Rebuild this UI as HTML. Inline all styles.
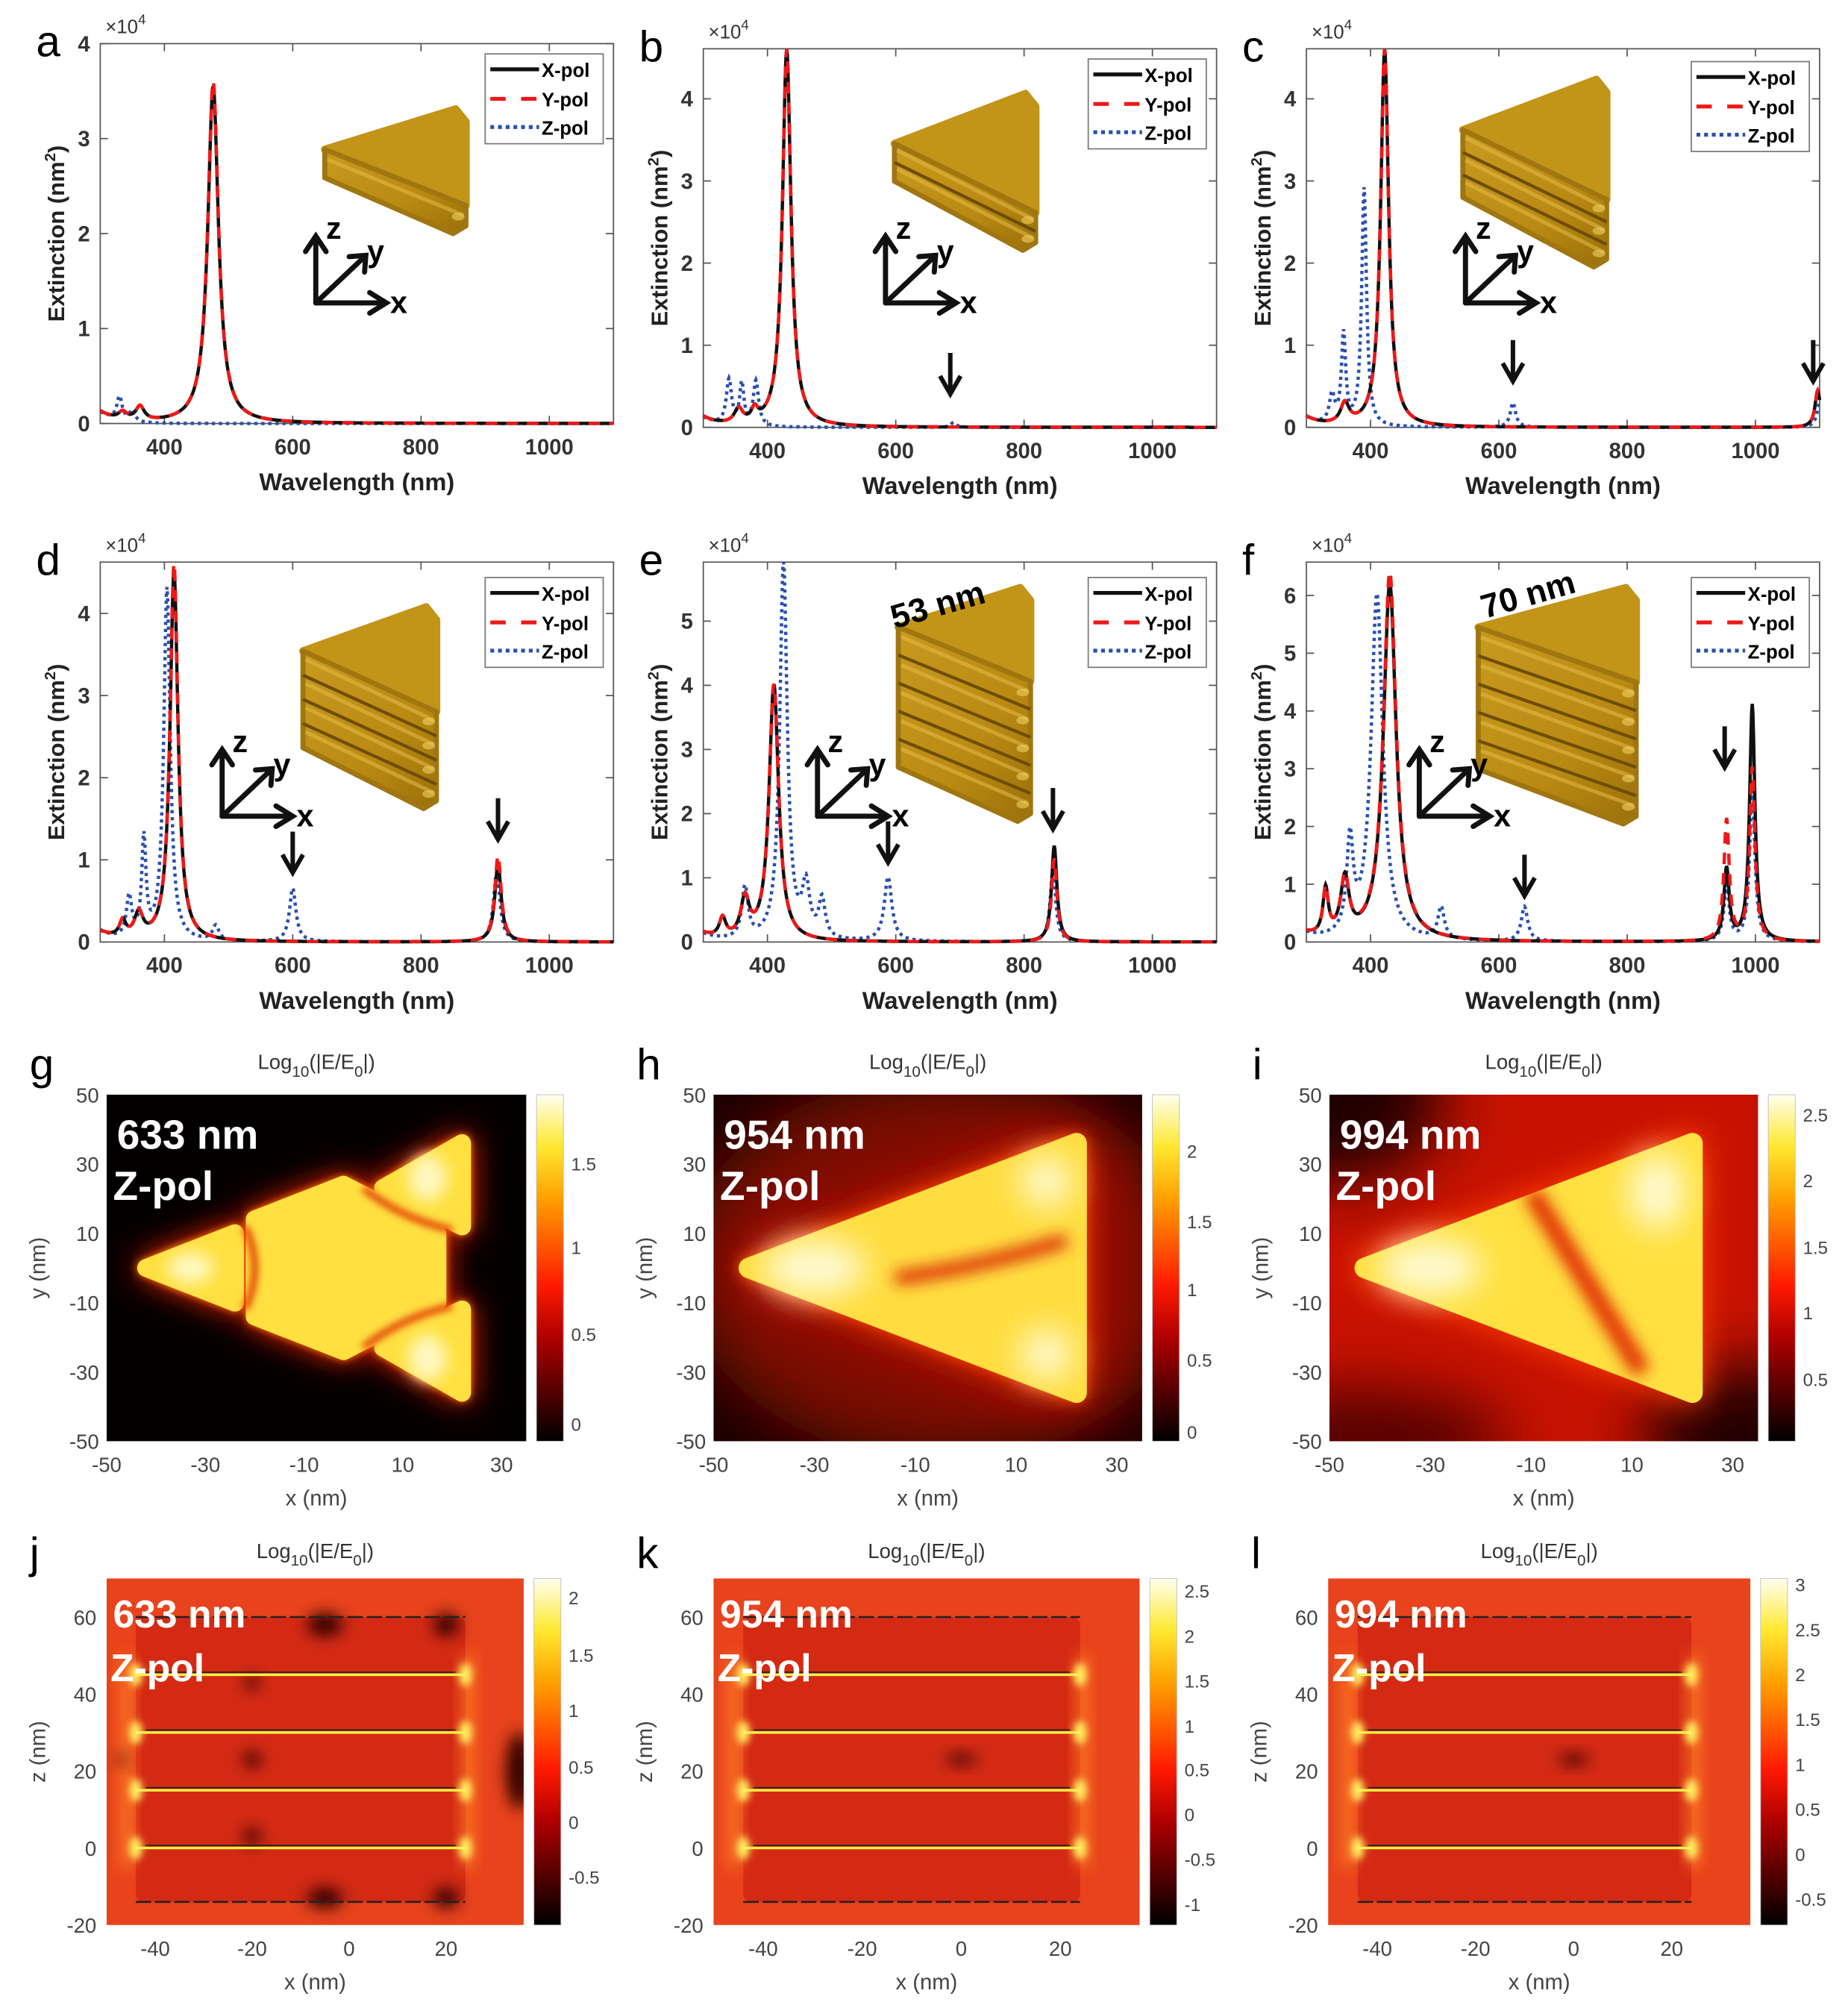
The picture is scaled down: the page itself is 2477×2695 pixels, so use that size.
<!DOCTYPE html>
<html><head><meta charset="utf-8">
<style>
html,body{margin:0;padding:0;background:#fff;overflow:hidden;width:2477px;height:2695px;}
svg{display:block;}
text{font-family:"Liberation Sans",Arial,sans-serif;}
</style></head>
<body>
<svg id="s" width="2477" height="2695" viewBox="0 0 1440 1567" xmlns="http://www.w3.org/2000/svg">
<defs>
<linearGradient id="hot" x1="0" y1="1" x2="0" y2="0">
<stop offset="0" stop-color="#000"/><stop offset="0.3" stop-color="#b00000"/><stop offset="0.45" stop-color="#ff1a00"/><stop offset="0.7" stop-color="#ffa000"/><stop offset="0.85" stop-color="#ffe830"/><stop offset="1" stop-color="#fffff0"/>
</linearGradient>
<linearGradient id="gold" x1="0" y1="0" x2="1" y2="1">
<stop offset="0" stop-color="#c89a1e"/><stop offset="0.6" stop-color="#ba8a12"/><stop offset="1" stop-color="#9a700a"/>
</linearGradient>
<filter id="b6" x="-100%" y="-100%" width="300%" height="300%"><feGaussianBlur stdDeviation="6"/></filter>
<filter id="b12" x="-100%" y="-100%" width="300%" height="300%"><feGaussianBlur stdDeviation="12"/></filter>
<filter id="b25" x="-100%" y="-100%" width="300%" height="300%"><feGaussianBlur stdDeviation="25"/></filter>
<filter id="b3" x="-100%" y="-100%" width="300%" height="300%"><feGaussianBlur stdDeviation="3"/></filter>
</defs>
<g id="root"></g>
</svg>
<script>
const R=document.getElementById('root');let H='';
function lor(x,c,h,w){return h*w*w/((x-c)*(x-c)+w*w);}
function f(ps,x){let s=0;for(const p of ps)s+=lor(x,p[0],p[1],p[2]);return s;}
function path(P,ps,base){let d='';for(let nm=300;nm<=1100;nm+=1){let v=f(ps,nm)+(base?base(nm):0);let X=P.L+(nm-300)*0.5,Y=P.B-v*P.ppu;if(Y<P.T)Y=P.T;d+=(nm==300?'M':'L')+X.toFixed(1)+','+Y.toFixed(1);}return d;}
function spectrum(P){
 const {L,R:Rr,T,B,ppu,nt,let:lt}=P;
 H+=`<text x="${L-50}" y="${T+10}" font-size="34">${lt}</text>`;
 H+=`<rect x="${L}" y="${T}" width="${Rr-L}" height="${B-T}" fill="#fff" stroke="#555" stroke-width="1"/>`;
 for(let k=0;k<=nt;k++){let y=B-k*ppu;H+=`<line x1="${L}" x2="${L+6}" y1="${y}" y2="${y}" stroke="#555"/><line x1="${Rr}" x2="${Rr-6}" y1="${y}" y2="${y}" stroke="#555"/><text x="${L-8}" y="${y+6}" font-size="17" font-weight="bold" fill="#333" text-anchor="end">${k}</text>`;}
 for(const w of [400,600,800,1000]){let x=L+(w-300)*0.5;H+=`<line x1="${x}" x2="${x}" y1="${B}" y2="${B-6}" stroke="#555"/><line x1="${x}" x2="${x}" y1="${T}" y2="${T+6}" stroke="#555"/><text x="${x}" y="${B+24}" font-size="17" font-weight="bold" fill="#333" text-anchor="middle">${w}</text>`;}
 H+=`<text x="${L+4}" y="${T-8}" font-size="15" fill="#333">×10<tspan dy="-7" font-size="11">4</tspan></text>`;
 H+=`<text x="${L+200}" y="${B+52}" font-size="19" font-weight="bold" fill="#222" text-anchor="middle">Wavelength (nm)</text>`;
 H+=`<text transform="translate(${L-28},${(T+B)/2}) rotate(-90)" font-size="18" font-weight="bold" fill="#222" text-anchor="middle">Extinction (nm<tspan dy="-7" font-size="12">2</tspan><tspan dy="7">)</tspan></text>`;
 inset(P.ins);
 const bx=P.base||(x=>0);
 H+=`<path d="${path(P,P.z,bx)}" fill="none" stroke="#2850b0" stroke-width="2.6" stroke-dasharray="2.5,3"/>`;
 H+=`<path d="${path(P,P.x,bx)}" fill="none" stroke="#111" stroke-width="2.6"/>`;
 H+=`<path d="${path(P,P.y,bx)}" fill="none" stroke="#f01818" stroke-width="2.6" stroke-dasharray="9,7"/>`;
 for(const a of (P.arr||[])){let x=L+(a[0]-300)*0.5;H+=`<line x1="${x}" y1="${a[1]}" x2="${x}" y2="${a[1]+30}" stroke="#111" stroke-width="3.5"/><path d="M${x-8},${a[1]+18} L${x},${a[1]+32} L${x+8},${a[1]+18}" fill="none" stroke="#111" stroke-width="3.5"/>`;}
 const lx=Rr-100,ly=T+(P.lg||8);
 H+=`<rect x="${lx}" y="${ly}" width="92" height="70" fill="#fff" stroke="#777"/>`;
 H+=`<line x1="${lx+4}" x2="${lx+42}" y1="${ly+12}" y2="${ly+12}" stroke="#111" stroke-width="3"/><text x="${lx+44}" y="${ly+18}" font-size="15" font-weight="bold">X-pol</text>`;
 H+=`<line x1="${lx+4}" x2="${lx+42}" y1="${ly+35}" y2="${ly+35}" stroke="#f01818" stroke-width="3" stroke-dasharray="12,12"/><text x="${lx+44}" y="${ly+41}" font-size="15" font-weight="bold">Y-pol</text>`;
 H+=`<line x1="${lx+4}" x2="${lx+42}" y1="${ly+57}" y2="${ly+57}" stroke="#2850b0" stroke-width="3" stroke-dasharray="3,3"/><text x="${lx+44}" y="${ly+63}" font-size="15" font-weight="bold">Z-pol</text>`;
}
function inset(I){
 const {x,y,w,h,n,ox,oy,lab}=I;
 const t=(n==1?22:h*0.12);
 const yLt=y+0.42*(h-n*t), yLb=yLt+n*t;
 const xr=x+w;
 // top face
 H+=`<polygon points="${x},${yLt} ${xr-8},${y} ${xr},${y+10} ${xr},${y+h-n*t}" fill="#c29418" stroke="#c29418" stroke-width="6" stroke-linejoin="round"/>`;
 // front band
 H+=`<polygon points="${x},${yLt} ${xr},${y+h-n*t} ${xr},${y+h-6} ${xr-10},${y+h} ${x},${yLb}" fill="url(#gold)" stroke="#a07610" stroke-width="4" stroke-linejoin="round"/>`;
 for(let i=0;i<n;i++){
   const a1=yLt+i*t, a2=y+h-n*t+i*t;
   H+=`<path d="M${x+2},${a1+t*0.35} L${xr-2},${a2+t*0.35}" stroke="#e4bc48" stroke-width="3" opacity="0.55" fill="none"/>`;
   if(i>0)H+=`<path d="M${x},${a1} L${xr},${a2}" stroke="#6e4e06" stroke-width="2.5" fill="none"/>`;
   H+=`<ellipse cx="${xr-6}" cy="${a2+t*0.4}" rx="5" ry="3" fill="#f0d060" opacity="0.6"/>`;
 }
 H+=`<g stroke="#111" stroke-width="4" fill="none" stroke-linecap="round"><line x1="${ox}" y1="${oy}" x2="${ox}" y2="${oy-50}"/><path d="M${ox-8},${oy-40} L${ox},${oy-52} L${ox+8},${oy-40}"/><line x1="${ox}" y1="${oy}" x2="${ox+54}" y2="${oy}"/><path d="M${ox+42},${oy-8} L${ox+55},${oy} L${ox+42},${oy+8}"/><line x1="${ox}" y1="${oy}" x2="${ox+38}" y2="${oy-36}"/><path d="M${ox+26},${oy-36} L${ox+39},${oy-37} L${ox+38},${oy-24}"/></g>`;
 H+=`<text x="${ox+8}" y="${oy-50}" font-size="24" font-weight="bold">z</text><text x="${ox+40}" y="${oy-32}" font-size="24" font-weight="bold">y</text><text x="${ox+58}" y="${oy+8}" font-size="24" font-weight="bold">x</text>`;
 if(lab)H+=`<text transform="translate(${lab[0]},${lab[1]}) rotate(-16)" font-size="26" font-weight="bold">${lab[2]}</text>`;
}
const b0=(nm)=>0.12*Math.exp(-(nm-300)/25);
spectrum({let:'a',L:78,R:478,T:34,B:330,ppu:74,nt:4,base:b0,
 x:[[476,3.55,10],[335,0.08,8],[362,0.15,8]],y:[[476,3.6,10],[335,0.08,8],[362,0.15,8]],z:[[330,0.25,5],[350,0.12,5]],
 ins:{x:253,y:85,w:110,h:97,n:1,ox:246,oy:236},lg:8});
spectrum({let:'b',L:548,R:948,T:38,B:333,ppu:64,nt:4,base:b0,
 x:[[430,4.6,8],[355,0.18,8],[380,0.15,6]],y:[[430,4.6,8],[355,0.18,8],[380,0.15,6]],z:[[340,0.55,5],[360,0.5,4],[382,0.55,5],[690,0.06,5]],
 ins:{x:697,y:73,w:110,h:122,n:2,ox:690,oy:236},arr:[[685,275]],lg:8});
spectrum({let:'c',L:1018,R:1418,T:38,B:333,ppu:64,nt:4,base:b0,
 x:[[422,4.6,7.5],[360,0.25,8],[1097,0.45,5]],y:[[422,4.6,7.5],[360,0.25,8],[1097,0.45,5]],z:[[390,2.9,4.5],[358,1.1,4],[340,0.35,5],[622,0.3,5],[1100,0.3,5]],
 ins:{x:1140,y:62,w:112,h:146,n:3,ox:1142,oy:236},arr:[[622,265],[1090,265]],lg:10});
spectrum({let:'d',L:78,R:478,T:438,B:734,ppu:64,nt:4,base:b0,
 x:[[415,4.5,7.5],[920,0.95,6],[360,0.3,8],[335,0.2,6]],y:[[415,4.6,7.5],[920,1.05,6],[360,0.3,8],[335,0.2,6]],z:[[404,4.3,6],[368,1.2,4],[345,0.5,5],[600,0.65,6],[480,0.18,6],[918,0.85,6]],
 ins:{x:236,y:473,w:104,h:157,n:4,ox:173,oy:636},arr:[[600,648],[920,622]],lg:12});
spectrum({let:'e',L:548,R:948,T:438,B:734,ppu:50,nt:5,base:b0,
 x:[[410,4.0,9],[847,1.5,5],[365,0.6,8],[330,0.3,6]],y:[[410,4.0,9],[847,1.3,5],[365,0.6,8],[330,0.3,6]],z:[[425,5.9,7],[365,0.8,6],[460,0.8,7],[485,0.6,6],[588,1.0,7],[845,1.15,5]],
 ins:{x:700,y:458,w:103,h:182,n:5,ox:637,oy:636,lab:[697,490,'53 nm']},arr:[[588,640],[845,614]],lg:12});
spectrum({let:'f',L:1018,R:1418,T:438,B:734,ppu:45,nt:6,base:b0,
 x:[[430,6.2,12],[360,1.0,8],[330,0.8,5],[955,1.25,5],[995,4.1,5]],y:[[430,6.4,12],[360,1.0,8],[330,0.8,5],[955,2.1,5],[995,3.0,5]],z:[[410,6.0,11],[368,1.6,6],[510,0.55,6],[640,0.6,6],[955,0.95,5],[995,2.6,5]],
 ins:{x:1152,y:458,w:123,h:184,n:5,ox:1106,oy:636,lab:[1157,482,'70 nm']},arr:[[640,666],[952,566],[993,485]],lg:12});

function map3(P){
 const {L,T,W,Hh,lt,wl,bg,cb,cbt}=P;
 const X=v=>L+(v+50)/85*W, Y=v=>T+(50-v)/100*Hh;
 H+=`<text x="${L-60}" y="${T-12}" font-size="34">${lt}</text>`;
 H+=`<text x="${L+W/2}" y="${T-20}" font-size="16" fill="#333" text-anchor="middle">Log<tspan dy="6" font-size="12">10</tspan><tspan dy="-6">(|E/E</tspan><tspan dy="6" font-size="12">0</tspan><tspan dy="-6">|)</tspan></text>`;
 H+=`<svg x="${L}" y="${T}" width="${W}" height="${Hh}" viewBox="${L} ${T} ${W} ${Hh}" overflow="hidden">${bg(X,Y)}</svg>`;
 [50,30,10,-10,-30,-50].forEach(v=>H+=`<text x="${L-6}" y="${Y(v)+6}" font-size="16" fill="#444" text-anchor="end">${v}</text>`);
 [-50,-30,-10,10,30].forEach(v=>H+=`<text x="${X(v)}" y="${T+Hh+24}" font-size="16" fill="#444" text-anchor="middle">${v}</text>`);
 H+=`<text x="${L+W/2}" y="${T+Hh+50}" font-size="17" fill="#444" text-anchor="middle">x (nm)</text>`;
 H+=`<text transform="translate(${L-48},${T+Hh/2}) rotate(-90)" font-size="17" fill="#444" text-anchor="middle">y (nm)</text>`;
 H+=`<rect x="${L+W+8}" y="${T}" width="21" height="${Hh}" fill="url(#hot)" stroke="#bbb" stroke-width="0.5"/>`;
 cbt.forEach(t=>H+=`<text x="${L+W+35}" y="${t[1]+5}" font-size="14" fill="#444">${t[0]}</text>`);
 H+=`<text x="${L+8}" y="${T+42}" font-size="32" font-weight="bold" fill="#fff">${wl}</text><text x="${L+5}" y="${T+82}" font-size="32" font-weight="bold" fill="#fff">Z-pol</text>`;
}
function tri(X,Y,fill,extra){const p=[[X(-43),Y(0)],[X(22),Y(36)],[X(22),Y(-36)]];return `<polygon points="${p.map(q=>q.join(',')).join(' ')}" fill="${fill}" stroke="${fill}" stroke-width="16" stroke-linejoin="round" ${extra||''}/>`;}
map3({L:83,T:853,W:327,Hh:270,lt:'g',wl:'633 nm',cbt:[['1.5',907],['1',972],['0.5',1040],['0',1110]],
 bg:(X,Y)=>{let s=`<rect x="0" y="0" width="2000" height="2000" fill="#050000"/>`;
 const sm=(pts,c,e)=>`<polygon points="${pts.map(p=>X(p[0])+','+Y(p[1])).join(' ')}" fill="${c}" stroke="${c}" stroke-width="14" stroke-linejoin="round" ${e||''}/>`;
 const shapes=[[[-42,0],[-24,10],[-24,-10]],[[6,23],[22,36],[22,12]],[[6,-23],[22,-36],[22,-12]],[[-20,14],[-2,24],[17,10],[17,-10],[-2,-24],[-20,-14]]];
 shapes.forEach(p=>s+=sm(p,'#ff2000','filter="url(#b12)"'));
 shapes.forEach(p=>s+=sm(p,'#ff7a00','filter="url(#b3)"'));
 shapes.forEach(p=>s+=sm(p,'#ffe040'));
 s+=`<g stroke="#e03000" stroke-width="5" fill="none" filter="url(#b3)"><path d="M${X(-22)},${Y(12)} Q${X(-18)},${Y(0)} ${X(-22)},${Y(-12)}"/><path d="M${X(2)},${Y(23)} Q${X(10)},${Y(14)} ${X(20)},${Y(11)}"/><path d="M${X(2)},${Y(-23)} Q${X(10)},${Y(-14)} ${X(20)},${Y(-11)}"/></g>`;
 s+=`<ellipse cx="${X(-33)}" cy="${Y(0)}" rx="18" ry="12" fill="#fff8c0" filter="url(#b6)"/><ellipse cx="${X(15)}" cy="${Y(26)}" rx="15" ry="18" fill="#fff8c0" filter="url(#b6)"/><ellipse cx="${X(15)}" cy="${Y(-26)}" rx="15" ry="18" fill="#fff8c0" filter="url(#b6)"/>`;
 return s;}});
map3({L:556,T:853,W:334,Hh:270,lt:'h',wl:'954 nm',cbt:[['2',897],['1.5',952],['1',1005],['0.5',1060],['0',1116]],
 bg:(X,Y)=>{let s=`<rect x="0" y="0" width="2000" height="2000" fill="#1a0000"/>`;
 s+=`<ellipse cx="${X(-5)}" cy="${Y(0)}" rx="200" ry="150" fill="#7a0a00" filter="url(#b25)"/>`;
 s+=tri(X,Y,'#e81800','filter="url(#b25)" stroke-width="40"');
 s+=tri(X,Y,'#ff5000','filter="url(#b6)"');
 s+=tri(X,Y,'#ffdd40');
 s+=`<ellipse cx="${X(-30)}" cy="${Y(0)}" rx="40" ry="22" fill="#fffad0" filter="url(#b12)"/><ellipse cx="${X(16)}" cy="${Y(25)}" rx="20" ry="20" fill="#fffad0" filter="url(#b12)"/><ellipse cx="${X(16)}" cy="${Y(-25)}" rx="20" ry="20" fill="#fffad0" filter="url(#b12)"/>`;
 s+=`<path d="M${X(-14)},${Y(-3)} Q${X(2)},${Y(0)} ${X(20)},${Y(8)}" stroke="#d82000" stroke-width="10" fill="none" filter="url(#b6)"/>`;
 return s;}});
map3({L:1036,T:853,W:334,Hh:270,lt:'i',wl:'994 nm',cbt:[['2.5',869],['2',920],['1.5',972],['1',1023],['0.5',1075]],
 bg:(X,Y)=>{let s=`<rect x="0" y="0" width="2000" height="2000" fill="#c81200"/>`;
 s+=`<ellipse cx="${X(-50)}" cy="${Y(50)}" rx="90" ry="70" fill="#200000" filter="url(#b25)"/><ellipse cx="${X(35)}" cy="${Y(-50)}" rx="90" ry="60" fill="#200000" filter="url(#b25)"/><ellipse cx="${X(-45)}" cy="${Y(-50)}" rx="120" ry="40" fill="#500000" filter="url(#b25)"/>`;
 s+=tri(X,Y,'#ff4000','filter="url(#b12)" stroke-width="30"');
 s+=tri(X,Y,'#ffe040');
 s+=`<ellipse cx="${X(-30)}" cy="${Y(0)}" rx="40" ry="22" fill="#fffad0" filter="url(#b12)"/><ellipse cx="${X(15)}" cy="${Y(22)}" rx="22" ry="30" fill="#fffad0" filter="url(#b12)"/>`;
 s+=`<path d="M${X(-10)},${Y(22)} L${X(12)},${Y(-30)}" stroke="#e02800" stroke-width="14" fill="none" filter="url(#b6)"/>`;
 return s;}});

function map4(P){
 const {L,T,W,Hh,lt,wl,cbt,spots}=P;
 const X=v=>L+(v+50)/86*W, Y=v=>T+(70-v)/90*Hh;
 H+=`<text x="${L-60}" y="${T-8}" font-size="34">${lt}</text>`;
 H+=`<text x="${L+W/2}" y="${T-16}" font-size="16" fill="#333" text-anchor="middle">Log<tspan dy="6" font-size="12">10</tspan><tspan dy="-6">(|E/E</tspan><tspan dy="6" font-size="12">0</tspan><tspan dy="-6">|)</tspan></text>`;
 let s=`<rect x="0" y="0" width="2000" height="2000" fill="#e8431c"/>`;
 s+=`<rect x="${X(-44)}" y="${Y(60)}" width="${X(24)-X(-44)}" height="${Y(-14)-Y(60)}" rx="6" fill="#d42a14"/>`;
 s+=`<rect x="${X(-47)}" y="${Y(50)}" width="8" height="${Y(-5)-Y(50)}" fill="#ff8020" filter="url(#b6)"/><rect x="${X(24)-2}" y="${Y(50)}" width="8" height="${Y(-5)-Y(50)}" fill="#ff8020" filter="url(#b6)"/>`;
 (spots||[]).forEach(p=>s+=`<ellipse cx="${X(p[0])}" cy="${Y(p[1])}" rx="${p[2]}" ry="${p[3]}" fill="#300000" filter="url(#b6)"/>`);
 [60,-14].forEach(z=>s+=`<line x1="${X(-44)}" x2="${X(24)}" y1="${Y(z)}" y2="${Y(z)}" stroke="#222" stroke-width="1.5" stroke-dasharray="12,3"/>`);
 [45,30,15,0].forEach(z=>{s+=`<line x1="${X(-44)}" x2="${X(24)}" y1="${Y(z)}" y2="${Y(z)}" stroke="#ffb020" stroke-width="5" filter="url(#b3)"/><line x1="${X(-44)}" x2="${X(24)}" y1="${Y(z)}" y2="${Y(z)}" stroke="#f8f040" stroke-width="2"/><line x1="${X(-42)}" x2="${X(22)}" y1="${Y(z)-2}" y2="${Y(z)-2}" stroke="#222" stroke-width="1"/>`;
  s+=`<ellipse cx="${X(-44)}" cy="${Y(z)}" rx="5" ry="9" fill="#fff060" filter="url(#b3)"/><ellipse cx="${X(24)}" cy="${Y(z)}" rx="5" ry="9" fill="#fff060" filter="url(#b3)"/>`;});
 H+=`<svg x="${L}" y="${T}" width="${W}" height="${Hh}" viewBox="${L} ${T} ${W} ${Hh}" overflow="hidden">${s}</svg>`;
 [60,40,20,0,-20].forEach(v=>H+=`<text x="${L-8}" y="${Y(v)+6}" font-size="16" fill="#444" text-anchor="end">${v}</text>`);
 [-40,-20,0,20].forEach(v=>H+=`<text x="${X(v)}" y="${T+Hh+24}" font-size="16" fill="#444" text-anchor="middle">${v}</text>`);
 H+=`<text x="${L+W/2}" y="${T+Hh+50}" font-size="17" fill="#444" text-anchor="middle">x (nm)</text>`;
 H+=`<text transform="translate(${L-48},${T+Hh/2}) rotate(-90)" font-size="17" fill="#444" text-anchor="middle">z (nm)</text>`;
 H+=`<rect x="${L+W+8}" y="${T}" width="21" height="${Hh}" fill="url(#hot)" stroke="#bbb" stroke-width="0.5"/>`;
 cbt.forEach(t=>H+=`<text x="${L+W+35}" y="${t[1]+5}" font-size="14" fill="#444">${t[0]}</text>`);
 H+=`<text x="${L+5}" y="${T+38}" font-size="30" font-weight="bold" fill="#fff">${wl}</text><text x="${L+3}" y="${T+80}" font-size="30" font-weight="bold" fill="#fff">Z-pol</text>`;
}
map4({L:83,T:1230,W:325,Hh:270,lt:'j',wl:'633 nm',cbt:[['2',1245],['1.5',1290],['1',1333],['0.5',1377],['0',1420],['-0.5',1463]],
 spots:[[-5,58,14,9],[20,58,10,9],[-20,43,6,5],[-20,23,7,6],[-20,3,7,6],[-5,-13,14,8],[20,-13,10,8],[35,20,10,30],[-47,23,4,4]]});
map4({L:556,T:1230,W:332,Hh:270,lt:'k',wl:'954 nm',cbt:[['2.5',1240],['2',1275],['1.5',1310],['1',1345],['0.5',1379],['0',1414],['-0.5',1449],['-1',1484]],
 spots:[[0,23,12,4]]});
map4({L:1035,T:1230,W:329,Hh:270,lt:'l',wl:'994 nm',cbt:[['3',1235],['2.5',1270],['2',1305],['1.5',1340],['1',1375],['0.5',1410],['0',1445],['-0.5',1480]],
 spots:[[0,23,12,4]]});
R.innerHTML=H;
</script>
</body></html>
